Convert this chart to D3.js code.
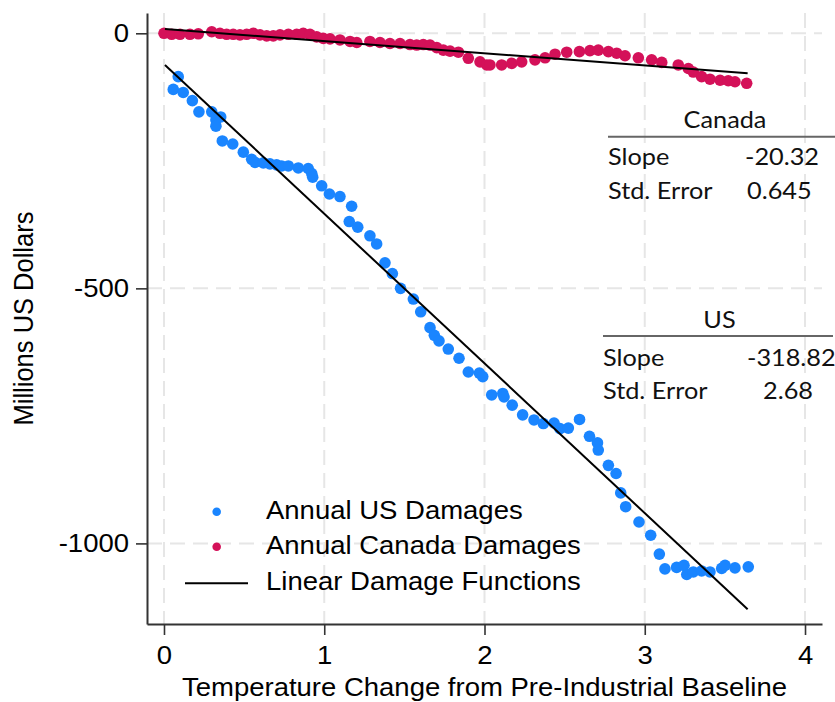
<!DOCTYPE html>
<html>
<head>
<meta charset="utf-8">
<script src="https://cdn.jsdelivr.net/npm/d3@7"></script>
<style>
  html, body { margin: 0; padding: 0; background: #fff; }
  svg { display: block; }
</style>
</head>
<body>
<svg id="chart" width="835" height="702"></svg>
<script>
// ---------------- DATA ----------------
const usTemp = [0.058,0.089,0.120,0.177,0.218,0.298,0.324,0.324,0.354,0.364,0.429,0.495,0.547,0.568,0.620,0.661,0.703,0.734,0.776,0.838,0.900,0.922,0.928,0.984,1.032,1.098,1.171,1.156,1.209,1.285,1.327,1.379,1.425,1.476,1.556,1.602,1.660,1.687,1.716,1.774,1.841,1.899,1.968,1.989,2.045,2.114,2.122,2.173,2.238,2.309,2.367,2.434,2.471,2.523,2.593,2.655,2.705,2.710,2.773,2.821,2.850,2.881,2.964,3.037,3.091,3.126,3.199,3.245,3.262,3.303,3.355,3.407,3.480,3.501,3.563,3.646];
const usDamage = [-110,-85,-116,-132,-154,-154,-170,-182,-164,-211,-217,-233,-247,-253,-254,-256,-258,-260,-260,-264,-265,-275,-282,-299,-315,-320,-339,-369,-380,-397,-413,-450,-471,-500,-521,-546,-577,-592,-603,-619,-637,-664,-666,-673,-709,-706,-713,-729,-748,-758,-765,-764,-775,-774,-757,-790,-803,-817,-847,-863,-901,-928,-958,-984,-1021,-1050,-1047,-1043,-1061,-1056,-1054,-1056,-1049,-1043,-1048,-1046];

const caTemp = [0.0,0.048,0.100,0.162,0.214,0.298,0.349,0.391,0.432,0.474,0.516,0.557,0.599,0.641,0.682,0.724,0.776,0.828,0.869,0.911,0.953,0.994,1.036,1.098,1.161,1.203,1.285,1.348,1.410,1.473,1.535,1.577,1.618,1.660,1.702,1.743,1.785,1.837,1.899,1.972,2.014,2.034,2.107,2.170,2.232,2.315,2.378,2.440,2.513,2.592,2.658,2.710,2.773,2.825,2.877,2.960,3.043,3.106,3.209,3.272,3.303,3.355,3.407,3.470,3.521,3.563,3.636];
const caDamage = [0,-2,-2,-2,-1,3,0,-2,-2,-3,-2,0,-3,-5,-5,-3,-2,-2,0,-2,-7,-10,-11,-13,-16,-18,-16,-18,-20,-20,-22,-23,-22,-23,-28,-33,-35,-37,-49,-56,-62,-62,-62,-59,-56,-52,-48,-41,-37,-36,-34,-33,-36,-39,-44,-48,-52,-57,-62,-69,-76,-85,-90,-92,-93,-95,-98];

// fitted linear damage functions (endpoints)
const fitTemp = [0.006, 3.642];
const usFit = [-62, -1129];
const caFit = [8.4, -78.4];

const xTicks = [0, 1, 2, 3, 4];
const yTicks = [0, -500, -1000];

const legendLabels = ["Annual US Damages", "Annual Canada Damages", "Linear Damage Functions"];
const tableCanada = { title: "Canada", rows: [["Slope", "-20.32"], ["Std. Error", "0.645"]] };
const tableUS = { title: "US", rows: [["Slope", "-318.82"], ["Std. Error", "2.68"]] };

const xLabel = "Temperature Change from Pre-Industrial Baseline";
const yLabel = "Millions US Dollars";

// ---------------- STYLE ----------------
const usColor = "#1A85FF";
const caColor = "#D41159";
const axisFont = "'Liberation Sans', Arial, sans-serif";
const tableFont = "Lato, 'Open Sans', sans-serif";
const SX = 1.1; // horizontal stretch of the reference image

// ---------------- CHART ----------------
const svg = d3.select("#chart");
const L = 147, R = 822, T = 13, B = 624;

const x = d3.scaleLinear().domain([-0.106, 4.106]).range([L, R]);
const y = d3.scaleLinear().domain([39.8, -1158]).range([T, B]);

// grid
const grid = svg.append("g");
grid.selectAll("line.v").data(xTicks).join("line")
  .attr("x1", d => x(d)).attr("x2", d => x(d))
  .attr("y1", T).attr("y2", B)
  .attr("stroke", "#e6e6e6").attr("stroke-width", 2)
  .attr("stroke-dasharray", "15,8");
grid.selectAll("line.h").data(yTicks).join("line")
  .attr("x1", L).attr("x2", R)
  .attr("y1", d => y(d)).attr("y2", d => y(d))
  .attr("stroke", "#e6e6e6").attr("stroke-width", 2)
  .attr("stroke-dasharray", "15,8");

// points
svg.append("g").selectAll("circle").data(usTemp.map((t, i) => [t, usDamage[i]])).join("circle")
  .attr("cx", d => x(d[0])).attr("cy", d => y(d[1])).attr("r", 5.8)
  .attr("fill", usColor);
svg.append("g").selectAll("circle").data(caTemp.map((t, i) => [t, caDamage[i]])).join("circle")
  .attr("cx", d => x(d[0])).attr("cy", d => y(d[1])).attr("r", 5.8)
  .attr("fill", caColor);

// fit lines
const line = d3.line().x(d => x(d[0])).y(d => y(d[1]));
[usFit, caFit].forEach(f => {
  svg.append("path").datum(fitTemp.map((t, i) => [t, f[i]]))
    .attr("d", line).attr("fill", "none")
    .attr("stroke", "#000").attr("stroke-width", 2);
});

// axes
const xAxis = svg.append("g").attr("transform", `translate(0,${B})`)
  .call(d3.axisBottom(x).tickValues(xTicks).tickFormat(d3.format("d")).tickSize(11).tickSizeOuter(0).tickPadding(11));
const yAxis = svg.append("g").attr("transform", `translate(${L},0)`)
  .call(d3.axisLeft(y).tickValues(yTicks).tickFormat(d3.format("d")).tickSize(11).tickSizeOuter(0).tickPadding(7));
[xAxis, yAxis].forEach(a => {
  a.select(".domain").attr("stroke", "#333").attr("stroke-width", 2);
  a.selectAll(".tick line").attr("stroke", "#333").attr("stroke-width", 1.6);
  a.selectAll(".tick text").attr("font-family", axisFont).attr("font-size", 25).attr("fill", "#000");
});
yAxis.selectAll(".tick text").attr("x", -18 / SX).attr("transform", `scale(${SX},1)`).text(d => d3.format("d")(d).replace("−", "-"));
xAxis.selectAll(".tick text").attr("transform", `scale(${SX},1)`);

// axis titles
svg.append("text").attr("transform", `translate(${(L + R) / 2},696) scale(${SX},1)`)
  .attr("text-anchor", "middle").attr("font-family", axisFont).attr("font-size", 25).text(xLabel);
svg.append("text").attr("transform", `translate(33,${(T + B) / 2}) scale(${SX},1) rotate(-90)`)
  .attr("text-anchor", "middle").attr("font-family", axisFont).attr("font-size", 25.5).text(yLabel);

// legend
const lg = svg.append("g");
const legY = [511.7, 546.7, 583.3];
const legBase = [519.3, 554.3, 590];
lg.append("circle").attr("cx", 216.7).attr("cy", legY[0]).attr("r", 4.3).attr("fill", usColor);
lg.append("circle").attr("cx", 216.7).attr("cy", legY[1]).attr("r", 4.3).attr("fill", caColor);
lg.append("line").attr("x1", 185).attr("x2", 248).attr("y1", legY[2]).attr("y2", legY[2])
  .attr("stroke", "#000").attr("stroke-width", 2);
legendLabels.forEach((t, i) => {
  lg.append("text").attr("transform", `translate(266,${legBase[i]}) scale(${SX},1)`)
    .attr("font-family", axisFont).attr("font-size", 25).attr("fill", "#000").text(t);
});

// tables
function drawTable(tab, cfg) {
  const g = svg.append("g").attr("font-family", tableFont).attr("font-size", cfg.fs).attr("fill", "#111");
  g.append("text").attr("transform", `translate(${cfg.cx},${cfg.titleBase}) scale(${SX},1)`)
    .attr("text-anchor", "middle").text(tab.title);
  g.append("line").attr("x1", cfg.lx1).attr("x2", cfg.lx2).attr("y1", cfg.ly).attr("y2", cfg.ly)
    .attr("stroke", "#666").attr("stroke-width", 2);
  tab.rows.forEach((r, i) => {
    g.append("text").attr("transform", `translate(${cfg.labelX},${cfg.rowBase[i]}) scale(${SX},1)`).text(r[0]);
    g.append("text").attr("transform", `translate(${cfg.valX[i]},${cfg.rowBase[i]}) scale(${SX},1)`).text(r[1]);
  });
}
drawTable(tableCanada, { fs: 23, cx: 725, titleBase: 128.3, lx1: 608, lx2: 835, ly: 136.7, labelX: 608, rowBase: [165, 199.3], valX: [745, 747] });
drawTable(tableUS, { fs: 23, cx: 719.5, titleBase: 327.5, lx1: 603, lx2: 833, ly: 336, labelX: 603, rowBase: [366, 399], valX: [747, 763] });
</script>
</body>
</html>
